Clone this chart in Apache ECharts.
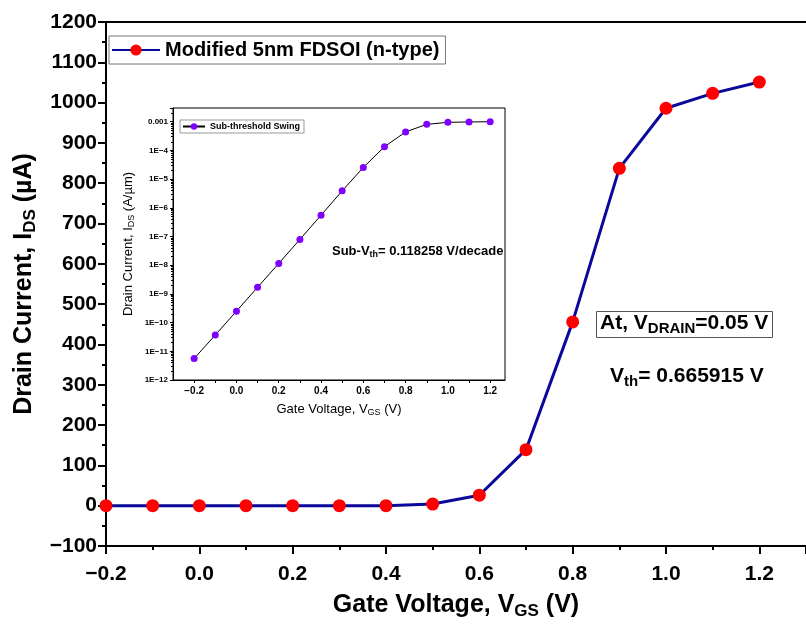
<!DOCTYPE html>
<html>
<head>
<meta charset="utf-8">
<script src="https://cdn.jsdelivr.net/npm/echarts@6/dist/echarts.min.js"></script>
<style>
  html, body { margin: 0; padding: 0; background: #fff; }
  #chart { width: 806px; height: 625px; }
</style>
</head>
<body>
<div id="chart"></div>
<script>
// Gate voltage points (V)
var vgs = [-0.2, -0.1, 0.0, 0.1, 0.2, 0.3, 0.4, 0.5, 0.6, 0.7, 0.8, 0.9, 1.0, 1.1, 1.2];
// Drain current, linear plot (uA)
var idsLin = [0, 0, 0, 0, 0, 0, 0, 4, 26, 139, 456, 837, 986, 1023, 1051];
// Drain current, log inset (A/um)
var idsLog = [5.6e-12, 3.7e-11, 2.5e-10, 1.7e-9, 1.15e-8, 7.9e-8, 5.5e-7, 3.9e-6, 2.55e-5, 1.34e-4, 4.4e-4, 8.1e-4, 9.5e-4, 9.8e-4, 1.0e-3];
// Inset tick values
var insetXLabels = [-0.2, 0.0, 0.2, 0.4, 0.6, 0.8, 1.0, 1.2];
var insetXTicks = [-0.2, -0.1, 0.0, 0.1, 0.2, 0.3, 0.4, 0.5, 0.6, 0.7, 0.8, 0.9, 1.0, 1.1, 1.2];

var FONT = '"Liberation Sans", Arial, sans-serif';

function minus(s) {
    return String(s).replace('-', '\u2212');
}

var chart = echarts.init(document.getElementById('chart'));

chart.setOption({
    animation: false,
    textStyle: { fontFamily: FONT, color: '#000' },
    grid: [{
        left: 106, top: 22, width: 701, height: 524
    }, {
        left: 173, top: 108, width: 332, height: 272,
        show: true, borderColor: '#000', borderWidth: 1, z: 5
    }],
    legend: [{
        data: ['Modified 5nm FDSOI (n-type)'],
        left: 109, top: 36,
        orient: 'vertical',
        itemWidth: 48, itemHeight: 14,
        padding: [4, 6, 4, 2],
        borderColor: '#777', borderWidth: 1,
        textStyle: { fontSize: 20, fontWeight: 'bold', color: '#000', fontFamily: FONT }
    }, {
        data: ['Sub-threshold Swing'],
        left: 180, top: 120,
        itemWidth: 22, itemHeight: 8, itemGap: 2,
        padding: [2, 4, 2, 2],
        borderColor: '#999', borderWidth: 1,
        textStyle: { fontSize: 9, fontWeight: 'bold', color: '#000', fontFamily: FONT }
    }],
    xAxis: [{
        gridIndex: 0,
        type: 'value',
        min: -0.2, max: 1.3, interval: 0.2,
        name: '{n|Gate Voltage, V}{s|GS}{n| (V)}',
        nameLocation: 'middle', nameGap: 45,
        nameTextStyle: {
            rich: {
                n: { fontSize: 25, fontWeight: 'bold', fontFamily: FONT, color: '#000' },
                s: { fontSize: 17, fontWeight: 'bold', fontFamily: FONT, color: '#000', padding: [12, 0, 0, 0] }
            }
        },
        axisLine: { onZero: false, lineStyle: { color: '#000', width: 2 } },
        axisTick: { inside: false, length: 8, lineStyle: { color: '#000', width: 2 } },
        minorTick: { show: true, splitNumber: 2, length: 4, lineStyle: { color: '#000', width: 2 } },
        splitLine: { show: false },
        axisLabel: {
            margin: 18, fontSize: 21, fontWeight: 'bold', color: '#000', fontFamily: FONT,
            showMaxLabel: false,
            formatter: function (v) { return v > 1.25 ? '' : minus(v.toFixed(1)); }
        }
    }, {
        // top frame line of the main plot
        gridIndex: 0,
        type: 'value',
        position: 'top',
        min: -0.2, max: 1.3,
        axisLine: { onZero: false, lineStyle: { color: '#000', width: 2 } },
        axisTick: { show: false },
        axisLabel: { show: false },
        splitLine: { show: false }
    }, {
        gridIndex: 1,
        type: 'value',
        min: -0.3, max: 1.27,
        name: '{n|Gate Voltage, V}{s|GS}{n| (V)}',
        nameLocation: 'middle', nameGap: 22,
        nameTextStyle: {
            rich: {
                n: { fontSize: 13, fontFamily: FONT, color: '#000' },
                s: { fontSize: 9, fontFamily: FONT, color: '#000', padding: [6, 0, 0, 0] }
            }
        },
        axisLine: { onZero: false, lineStyle: { color: '#000', width: 1 } },
        axisTick: { length: 3, customValues: insetXTicks, lineStyle: { color: '#000' } },
        splitLine: { show: false },
        axisLabel: {
            margin: 6, fontSize: 10, fontWeight: 'bold', color: '#000', fontFamily: FONT,
            customValues: insetXLabels,
            formatter: function (v) { return minus(v.toFixed(1)); }
        }
    }],
    yAxis: [{
        gridIndex: 0,
        type: 'value',
        min: -100, max: 1200, interval: 100,
        name: '{n|Drain Current, I}{s|DS}{n| (\u00b5A)}',
        nameLocation: 'middle', nameGap: 66, nameRotate: 90,
        nameTextStyle: {
            rich: {
                n: { fontSize: 25, fontWeight: 'bold', fontFamily: FONT, color: '#000' },
                s: { fontSize: 17, fontWeight: 'bold', fontFamily: FONT, color: '#000', padding: [12, 0, 0, 0] }
            }
        },
        axisLine: { onZero: false, lineStyle: { color: '#000', width: 2 } },
        axisTick: { inside: false, length: 8, lineStyle: { color: '#000', width: 2 } },
        minorTick: { show: true, splitNumber: 2, length: 4, lineStyle: { color: '#000', width: 2 } },
        splitLine: { show: false },
        axisLabel: {
            margin: 9, fontSize: 21, fontWeight: 'bold', color: '#000', fontFamily: FONT,
            formatter: function (v) { return minus(v); }
        }
    }, {
        gridIndex: 1,
        type: 'log', logBase: 10,
        min: 1e-12, max: 3e-3,
        name: '{n|Drain Current, I}{s|DS}{n| (A/\u00b5m)}',
        nameLocation: 'middle', nameGap: 37, nameRotate: 90,
        nameTextStyle: {
            rich: {
                n: { fontSize: 13, fontFamily: FONT, color: '#000' },
                s: { fontSize: 9, fontFamily: FONT, color: '#000', padding: [6, 0, 0, 0] }
            }
        },
        axisLine: { onZero: false, lineStyle: { color: '#000', width: 1 } },
        axisTick: { length: 3, lineStyle: { color: '#000' } },
        minorTick: { show: true, splitNumber: 9, length: 2, lineStyle: { color: '#000' } },
        splitLine: { show: false },
        axisLabel: {
            margin: 5, fontSize: 8, fontWeight: 'bold', color: '#000', fontFamily: FONT,
            showMaxLabel: false,
            formatter: function (v) {
                var e = Math.log10(v);
                var r = Math.round(e);
                if (Math.abs(e - r) > 0.01) return '';
                return r === -3 ? '0.001' : '1E\u2212' + (-r);
            }
        }
    }],
    title: [{
        text: '{n|At, V}{s|DRAIN}{n|=0.05 V}',
        left: 596, top: 309,
        padding: [2, 4, 2, 4],
        borderColor: '#555', borderWidth: 1,
        textStyle: {
            rich: {
                n: { fontSize: 21, fontWeight: 'bold', fontFamily: FONT, color: '#000' },
                s: { fontSize: 15, fontWeight: 'bold', fontFamily: FONT, color: '#000', padding: [10, 0, 0, 0] }
            }
        }
    }, {
        text: '{n|V}{s|th}{n|= 0.665915 V}',
        left: 610, top: 364,
        padding: 0,
        textStyle: {
            rich: {
                n: { fontSize: 21, fontWeight: 'bold', fontFamily: FONT, color: '#000' },
                s: { fontSize: 15, fontWeight: 'bold', fontFamily: FONT, color: '#000', padding: [10, 0, 0, 0] }
            }
        }
    }, {
        text: '{n|Sub-V}{s|th}{n|= 0.118258 V/decade}',
        left: 332, top: 244,
        padding: 0,
        textStyle: {
            rich: {
                n: { fontSize: 13, fontWeight: 'bold', fontFamily: FONT, color: '#000' },
                s: { fontSize: 9, fontWeight: 'bold', fontFamily: FONT, color: '#000', padding: [6, 0, 0, 0] }
            }
        }
    }],
    series: [{
        name: 'Modified 5nm FDSOI (n-type)',
        type: 'line',
        xAxisIndex: 0, yAxisIndex: 0,
        data: vgs.map(function (v, i) { return [v, idsLin[i]]; }),
        symbol: 'circle', symbolSize: 13,
        lineStyle: { color: '#0a0a9a', width: 3 },
        itemStyle: { color: '#ff0000' },
        z: 3
    }, {
        name: 'Sub-threshold Swing',
        type: 'line',
        xAxisIndex: 2, yAxisIndex: 1,
        data: vgs.map(function (v, i) { return [v, idsLog[i]]; }),
        symbol: 'circle', symbolSize: 7,
        lineStyle: { color: '#000', width: 1 },
        itemStyle: { color: '#8000ff' },
        z: 6
    }]
});
</script>
</body>
</html>
